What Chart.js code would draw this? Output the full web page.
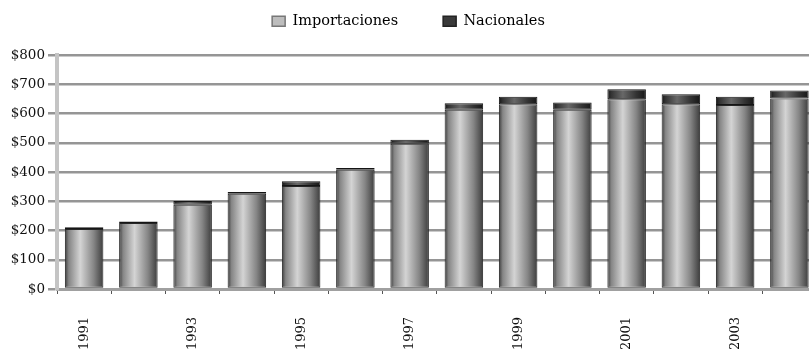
<!DOCTYPE html>
<html>
<head>
<meta charset="utf-8">
<script src="https://cdn.jsdelivr.net/npm/chart.js@4/dist/chart.umd.min.js"></script>
<style>
  html, body { margin: 0; padding: 0; background: #fff; overflow: hidden; }
  #wrap { width: 828px; height: 349px; }
</style>
</head>
<body>
<div id="wrap"><canvas id="grafico"></canvas></div>
<script>
// Años (solo se rotulan los impares)
const anios = ['1991', '1992', '1993', '1994', '1995', '1996', '1997', '1998', '1999', '2000', '2001', '2002', '2003', '2004'];
// Valores en millones de $
const importaciones = [205, 226, 288, 326, 352, 408, 497, 613, 632, 613, 649, 632, 629, 651];
const nacionales = [6, 5, 13, 6, 16, 6, 13, 22, 25, 25, 34, 34, 28, 28];
const ticksY = [0, 100, 200, 300, 400, 500, 600, 700, 800];

const fuente = 'DejaVu Serif';
const anchoBarra = 0.71;
const margenArriba = -31;   // la leyenda usa mucho padding horizontal
const altoLeyenda = 86;     // arriba del área = margenArriba + altoLeyenda
const margenIzq = -11;      // corre la leyenda un poco a la izquierda

// Degradado tipo cilindro para cada barra
function cilindro(colores) {
    return function (c) {
        const chart = c.chart;
        const xs = chart.scales.x;
        if (!xs || c.dataIndex === undefined || xs.width === undefined) return colores[2];
        const cx = xs.getPixelForValue(c.dataIndex);
        const mitad = (xs.getPixelForValue(1) - xs.getPixelForValue(0)) * anchoBarra / 2;
        const g = chart.ctx.createLinearGradient(cx - mitad, 0, cx + mitad, 0);
        g.addColorStop(0, colores[0]);
        g.addColorStop(0.1, colores[1]);
        g.addColorStop(0.4, colores[2]);
        g.addColorStop(0.75, colores[1]);
        g.addColorStop(1, colores[0]);
        return g;
    };
}

// Fija la altura de la leyenda para que el área empiece donde en el original
const ajusteLeyenda = {
    id: 'ajusteLeyenda',
    beforeLayout(chart) {
        const leg = chart.legend;
        if (!leg || leg._ajustada) return;
        const fit = leg.fit;
        leg.fit = function () { fit.call(this); this.height = altoLeyenda; };
        leg._ajustada = true;
    }
};

const ctx = document.getElementById('grafico').getContext('2d');
const chart = new Chart(ctx, {
    type: 'bar',
    data: {
        labels: anios,
        datasets: [{
            label: 'Importaciones',
            data: importaciones,
            backgroundColor: cilindro(['#3c3c3c', '#858585', '#d4d4d4']),
            borderColor: '#262626',
            borderWidth: 1,
            borderSkipped: false,
            categoryPercentage: 1,
            barPercentage: anchoBarra
        }, {
            label: 'Nacionales',
            data: nacionales,
            backgroundColor: cilindro(['#161616', '#333333', '#686868']),
            borderColor: '#151515',
            borderWidth: 1,
            borderSkipped: false,
            categoryPercentage: 1,
            barPercentage: anchoBarra
        }]
    },
    plugins: [ajusteLeyenda],
    options: {
        responsive: true,
        maintainAspectRatio: false,
        animation: false,
        layout: { padding: { top: margenArriba, left: margenIzq, right: 0, bottom: 0 } },
        plugins: {
            tooltip: { enabled: false },
            legend: {
                position: 'top',
                labels: {
                    font: { family: fuente, size: 14.5 },
                    color: '#111',
                    boxWidth: 13,
                    boxHeight: 10,
                    padding: 45,
                    generateLabels: function () {
                        return [
                            { text: 'Importaciones', fillStyle: '#bdbdbd', strokeStyle: '#777', lineWidth: 1.5, datasetIndex: 0 },
                            { text: 'Nacionales', fillStyle: '#3a3a3a', strokeStyle: '#222', lineWidth: 1.5, datasetIndex: 1 }
                        ];
                    }
                }
            }
        },
        scales: {
            x: {
                stacked: true,
                offset: true,
                afterFit: function (s) { s.height = 60; },
                grid: { drawOnChartArea: false, offset: true, color: '#555', lineWidth: 1, tickLength: 5 },
                border: { display: true, color: '#a0a0a0', width: 3 },
                ticks: {
                    autoSkip: false,
                    maxRotation: 90,
                    minRotation: 90,
                    padding: 23,
                    color: '#111',
                    font: { family: fuente, size: 13 },
                    callback: function (v, i) { return i % 2 === 0 ? anios[i] : ''; }
                }
            },
            y: {
                stacked: true,
                min: 0,
                max: 800,
                afterFit: function (s) { s.width = 57 - margenIzq; },
                afterBuildTicks: function (s) { s.ticks = ticksY.map(v => ({ value: v })); },
                grid: { color: '#959595', lineWidth: 2.5, tickLength: 9 },
                border: { display: true, color: '#c4c4c4', width: 4 },
                ticks: {
                    padding: 3,
                    color: '#111',
                    font: { family: fuente, size: 13.5 },
                    callback: v => '$' + v
                }
            }
        }
    }
});
</script>
</body>
</html>
